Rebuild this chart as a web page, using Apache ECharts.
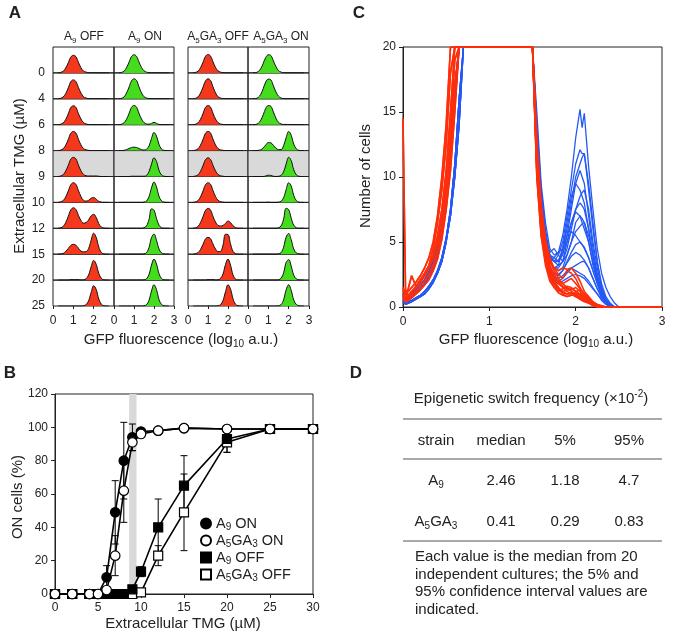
<!DOCTYPE html>
<html><head><meta charset="utf-8">
<script src="https://cdn.jsdelivr.net/npm/echarts@6/dist/echarts.min.js"></script>
<style>html,body{margin:0;padding:0;background:#fff}#c{width:674px;height:642px}</style>
</head><body><div id="c"></div>
<script>
// ---------------- Panel A data ----------------
const binX = [0.25,0.375,0.5,0.625,0.75,0.875,1.0,1.125,1.25,1.375,1.5,1.625,1.75,1.875,2.0,2.125,2.25,2.375,2.5,2.625,2.75];
const tmgRows = ['0','4','6','8','9','10','12','15','20','25'];
const colHeads = ['A9 OFF','A9 ON','A5GA3 OFF','A5GA3 ON'];
const histA9off = [
 [0,2,6,19,39,61,68,63,41,20,7,3,1,0,0,0,0,0,0,0,0],
 [0,2,7,20,42,66,73,67,44,22,8,3,1,0,0,0,0,0,0,0,0],
 [0,2,7,20,42,66,73,67,43,22,8,3,1,0,0,0,0,0,0,0,0],
 [0,2,7,21,43,67,74,68,44,22,8,3,1,0,0,0,0,0,0,0,0],
 [0,2,7,21,43,67,74,68,44,22,8,3,2,2,2,2,1,0,0,0,0],
 [0,2,7,21,44,68,76,70,46,23,8,5,8,16,19,12,4,1,0,0,0],
 [0,2,7,22,46,71,79,73,50,30,20,22,32,48,54,42,18,5,1,0,0],
 [0,1,3,11,22,34,38,35,23,12,9,10,22,54,81,65,28,7,1,0,0],
 [0,0,0,0,0,2,2,2,2,0,1,5,20,51,76,61,26,7,1,0,0],
 [0,0,0,0,0,0,0,0,0,0,1,5,20,52,78,64,27,7,1,0,0]
];
const histA9on = [
 [0,2,6,20,41,63,70,64,42,21,8,3,1,0,0,0,0,0,0,0,0],
 [0,2,7,22,45,69,77,71,46,23,8,3,1,0,0,0,0,0,0,0,0],
 [0,2,7,21,43,67,74,68,44,22,8,3,2,5,9,5,1,0,0,0,0],
 [0,0,1,4,8,12,13,12,8,4,2,5,18,47,70,56,24,6,1,0,0],
 [0,0,0,0,0,1,1,1,1,1,1,4,19,48,72,58,24,6,1,0,0],
 [0,0,0,0,0,0,0,0,0,0,1,5,22,56,79,60,24,6,1,0,0],
 [0,0,0,0,0,0,0,0,0,0,2,9,34,75,70,38,12,2,0,0,0],
 [0,0,0,0,0,0,0,0,0,0,1,6,26,64,78,54,20,5,1,0,0],
 [0,0,0,0,0,0,0,0,0,0,1,5,22,58,81,62,25,6,1,0,0],
 [0,0,0,0,0,0,0,0,0,0,1,5,22,58,82,63,25,6,1,0,0]
];
const histA5off = [
 [0,2,6,20,41,64,71,65,43,21,8,3,1,0,0,0,0,0,0,0,0],
 [0,2,7,22,45,69,77,71,46,23,8,3,1,0,0,0,0,0,0,0,0],
 [0,2,7,21,43,67,74,68,44,22,8,3,1,0,0,0,0,0,0,0,0],
 [0,2,7,21,43,67,74,68,44,22,8,3,1,0,0,0,0,0,0,0,0],
 [0,2,6,20,42,65,72,66,43,22,8,3,1,0,0,0,0,0,0,0,0],
 [0,2,7,21,44,68,76,70,46,23,8,3,1,0,0,0,0,0,0,0,0],
 [0,2,7,22,45,69,77,71,46,24,11,9,11,19,28,22,10,3,0,0,0],
 [0,2,6,18,38,59,65,60,39,20,10,11,35,77,76,40,11,2,0,0,0],
 [0,0,0,0,0,0,2,2,2,0,1,6,24,60,81,58,20,4,0,0,0],
 [0,0,0,0,0,0,0,0,0,0,1,5,21,55,82,66,28,7,1,0,0]
];
const histA5on = [
 [0,1,5,16,37,60,70,67,46,24,9,3,1,0,0,0,0,0,0,0,0],
 [0,1,5,17,40,65,76,73,50,26,10,3,1,0,0,0,0,0,0,0,0],
 [0,1,5,17,39,63,74,71,49,25,9,3,1,1,1,0,0,0,0,0,0],
 [0,0,1,3,10,22,31,30,20,9,4,4,19,50,74,59,25,7,1,0,0],
 [0,0,0,0,0,2,5,4,1,0,1,4,18,48,74,61,26,7,1,0,0],
 [0,0,0,0,0,0,1,0,0,0,1,4,18,49,76,63,27,7,1,0,0],
 [0,0,0,0,0,0,0,0,0,0,2,9,35,77,72,39,12,2,0,0,0],
 [0,0,0,0,0,0,0,0,0,0,1,6,27,66,80,56,20,5,1,0,0],
 [0,0,0,0,0,0,0,0,0,0,1,7,28,68,79,54,19,5,1,0,0],
 [0,0,0,0,0,0,0,0,0,0,1,5,24,62,82,60,23,6,1,0,0]
];

// ---------------- Panel B data ----------------
const tmgX = [0,2,4,5,6,7,8,9,10,12,15,20,25,30];
const a9On     = [0,0,0,0,10,49,80,94,97.5,98,99.5,99,99,99];
const a9OnErr  = [0,0,0,0,7,19,23,8,1,1,0.5,2,0.5,0.5];
const a5On     = [0,0,0,0,2.4,23,62,91,96,98,99.5,99,99,99];
const a5OnErr  = [0,0,0,0,2,12,19,5,1,1,0.5,2,0.5,0.5];
const a9Off    = [0,0,0,0,0,0,0,2.8,13.4,40,65,93,99,99];
const a9OffErr = [0,0,0,0,0,0,0,1,3,17,18,8,1,0.5];
const a5Off    = [0,0,0,0,0,0,0,0,1,23,49,91,99,99];
const a5OffErr = [0,0,0,0,0,0,0,0,1,6,23,6,1,0.5];
const bandRange = [8.62, 9.48];

// ---------------- Panel C data ----------------
const xL = [0,0.03,0.06,0.1,0.15,0.2,0.25,0.3,0.35,0.4,0.45,0.5,0.55,0.6,0.65,0.7];
const xR = [1.5,1.55,1.6,1.65,1.7,1.75,1.8,1.85,1.9,1.95,2.0,2.05,2.075,2.1,2.15,2.2,2.25,2.3,2.35,2.4,2.45,2.5,2.55,3.0];
const redLeft = [
 [14.5,1.0,0.9,1.2,1.6,2.1,2.6,3.2,4.5,6.5,9.0,12.5,18,20,20,20],
 [1.5,1.0,1.4,2.4,1.6,2.0,2.4,3.0,4.0,5.5,7.5,10.5,15,20,20,20],
 [1.0,0.7,0.9,1.1,1.5,1.9,2.4,3.0,3.8,5.0,7.0,9.5,13.5,19,20,20],
 [0.8,0.5,0.7,0.9,1.2,1.6,2.0,2.5,3.2,4.3,6.0,8.5,12,17,20,20],
 [1.3,0.9,1.2,1.5,1.9,2.4,3.0,3.8,5.0,7.0,10,14,20,20,20,20],
 [0.6,0.4,0.5,0.7,1.0,1.3,1.7,2.1,2.8,3.7,5.2,7.5,10.5,15,20,20]
];
const blueLeft = [
 [0.5,0.3,0.4,0.5,0.7,0.9,1.2,1.6,2.1,2.8,3.8,5.3,7.5,11,16,20],
 [0.8,0.5,0.6,0.8,1.1,1.4,1.8,2.3,3.0,4.0,5.5,7.8,11,15.5,20,20],
 [0.4,0.2,0.3,0.4,0.6,0.8,1.0,1.4,1.9,2.6,3.5,5.0,7.0,10,14,20],
 [1.0,0.6,0.8,1.0,1.3,1.7,2.1,2.7,3.5,4.6,6.2,8.8,12.5,17,20,20]
];
const blueRight = [
 [20,15,9.5,6.5,4.5,4,4.2,5.5,7.5,10,13,15.2,13.8,14.9,10.8,7.5,4.5,2.6,1.5,0.8,0.3,0,0,0],
 [20,14,9,6,4,3.5,4,5,7,9,11,12.1,11.8,11.8,9,6,3.5,1.8,0.8,0.3,0,0,0,0],
 [20,14,9,5.5,4,3.8,3.5,4.5,6,8,10,11,11.5,11.8,9.5,6.5,3.5,1.5,0.6,0.2,0,0,0,0],
 [20,14,8.5,5.5,4,3.5,3.5,4,5.5,7.5,9.5,10.5,10,9.5,7,4.5,2.5,1.2,0.5,0,0,0,0,0],
 [20,13,8,5,3.5,3,3.2,4.5,6.5,8.5,9.5,9,8.5,8,6,4,2.2,1,0.4,0,0,0,0,0],
 [20,13.5,8.5,5.5,4,3.5,3.2,3.5,4.5,6,7.5,8.5,8.8,9,7.5,5,3,1.5,0.6,0.2,0,0,0,0],
 [20,13,8,5,3.5,3,3,3.5,5,6.5,7.5,8,7.8,7.5,6,4,2.2,1,0.5,0.1,0,0,0,0],
 [20,13,7.5,4.5,3.5,3.8,4.2,4.5,5.5,6.5,7.3,7,6.5,6,5,3.5,2,1,0.5,0.2,0,0,0,0],
 [20,13,8,5,3.5,3,2.8,3,4,5,5.8,6.2,6.4,6.5,5.5,4,2.5,1.2,0.5,0.2,0,0,0,0],
 [20,12.5,7.5,4.8,3.8,3.5,3.6,4.2,5,5.8,5.5,5,4.8,4.5,3.8,2.8,1.8,0.8,0.3,0,0,0,0,0],
 [20,12.5,7.5,4.5,3,2.6,2.5,2.8,3.5,4.2,4.8,5,4.8,4.6,3.8,2.8,1.8,1,0.4,0.1,0,0,0,0],
 [20,12,7,4.2,3,2.5,2.4,2.8,3.4,3.9,4.2,4,3.8,3.6,3,2.2,1.4,0.8,0.3,0,0,0,0,0],
 [20,12,7,4,2.8,2.2,2,2.2,2.6,3,3.2,3.4,3.5,3.5,3,2.2,1.4,0.7,0.3,0.1,0,0,0,0],
 [20,12,6.5,4,2.8,2.3,2.2,2.4,2.8,3,2.8,2.6,2.5,2.4,2,1.5,1,0.5,0.2,0,0,0,0,0],
 [20,13.5,8,5,4.2,4.5,4,3.5,4,5,6.5,7,6.8,6.5,5,3.2,2,1,0.4,0.1,0,0,0,0],
 [20,12,6.5,3.8,2.5,2,1.8,2,2.2,2.4,2.5,2.4,2.3,2.2,1.8,1.4,1,0.6,0.3,0.1,0,0,0,0]
];
const redRight = [
 [20,11,6,4,2.5,2,1.5,1.2,1,1,0.8,0.6,0.5,0.4,0.3,0.2,0,0,0,0,0,0,0,0],
 [20,12,7,5,3.5,3,2.8,3,2.9,3,2.6,2,1.6,1.2,0.8,0.4,0.1,0,0,0,0,0,0,0],
 [20,10,5.5,3.5,2.2,1.6,1.2,1.4,1.6,1.5,1.2,1.3,1.2,1,0.6,0.3,0.1,0,0,0,0,0,0,0],
 [20,11,6.5,4.5,3,2.4,2,1.8,1.5,1.3,1.5,1.2,1,0.8,0.5,0.3,0.2,0,0,0,0,0,0,0],
 [20,10.5,6,3.8,2.6,2,1.5,1,0.8,0.9,1,0.7,0.6,0.5,0.4,0.2,0,0,0,0,0,0,0,0],
 [20,12.5,7.5,5,3.5,2.8,2.2,1.8,2,2.2,1.8,1.4,1.2,1,0.7,0.4,0.2,0.1,0,0,0,0,0,0],
 [20,11.5,6.5,4.2,2.8,2.2,1.8,1.5,1.2,1,0.8,0.8,0.7,0.5,0.3,0.1,0,0,0,0,0,0,0,0],
 [20,10,5.5,3.2,2,1.5,1.1,0.9,0.8,0.9,1.1,1,0.8,0.6,0.4,0.3,0.1,0,0,0,0,0,0,0],
 [20,13,8,5.2,3.8,3,2.5,2.2,2.8,2.6,2.2,1.5,1.2,1,0.6,0.3,0.1,0,0,0,0,0,0,0],
 [20,11,6,3.8,2.5,1.8,1.4,1.2,1.3,1.4,1.2,1,0.9,0.8,0.5,0.3,0.1,0,0,0,0,0,0,0],
 [20,12,7,4.6,3.2,2.5,1.9,1.6,1.4,1.2,1,0.9,0.8,0.7,0.5,0.3,0.2,0.1,0,0,0,0,0,0],
 [20,10.5,5.8,3.6,2.4,1.8,1.3,1.1,1,1.1,0.9,0.7,0.6,0.5,0.3,0.2,0.1,0,0,0,0,0,0,0]
];

// ---------------- Panel D data ----------------
const dHeader = ['strain','median','5%','95%'];
const dStrains = ['A9','A5GA3'];
const dMedian = ['2.46','0.41'];
const dLow = ['1.18','0.29'];
const dHigh = ['4.7','0.83'];
const dNote = ['Each value is the median from 20','independent cultures; the 5% and','95% confidence interval values are','indicated.'];

// ---------------- build ----------------
const FONT = '"Liberation Sans", Arial, Helvetica, sans-serif';
const INK = '#222';
const grids = [], xAxes = [], yAxes = [], series = [], graphics = [];

function richName(s) {
  const out = '{n|' + s.replace(/(\d)/g, '}{s|$1}{n|') + '}';
  return out.replace(/\{n\|\}/g, '');
}
const gRich = (size, sub) => ({
  n: {fontSize: size, fontFamily: FONT, fill: INK, lineHeight: size + 4},
  s: {fontSize: sub, fontFamily: FONT, fill: INK, verticalAlign: 'bottom'},
  p: {fontSize: sub, fontFamily: FONT, fill: INK, verticalAlign: 'top'}
});
function T(x, y, text, o = {}) {
  graphics.push({type: 'text', x, y, rotation: o.rot || 0, silent: true,
    style: {text, fill: INK, fontSize: o.size || 12, fontFamily: FONT, fontWeight: o.bold ? 'bold' : 'normal',
      align: o.align || 'center', verticalAlign: 'middle', rich: o.rich}});
}
function L(x1, y1, x2, y2, c) {
  graphics.push({type: 'line', silent: true, shape: {x1, y1, x2, y2}, style: {stroke: c || '#555', lineWidth: 1}});
}

// Panel A
const colLeft = [53, 114, 188, 248], colW = [61, 60, 60, 61];
const rowTop = 47, rowH = 25.9;
const histCols = [histA9off, histA9on, histA5off, histA5on];
const histColor = ['#f5381c', '#45dc1e', '#f5381c', '#45dc1e'];
for (let c = 0; c < 4; c++) {
  for (let r = 0; r < 10; r++) {
    const gi = grids.length;
    grids.push({left: colLeft[c], top: rowTop + r * rowH, width: colW[c], height: rowH, show: true,
      borderColor: INK, borderWidth: 1, backgroundColor: r === 4 ? '#d9d9d9' : 'transparent'});
    const bottom = r === 9;
    xAxes.push({gridIndex: gi, type: 'value', min: 0, max: 3, interval: 1,
      axisLine: {show: false}, splitLine: {show: false},
      axisTick: {show: bottom, length: 3, lineStyle: {color: INK}},
      axisLabel: {show: bottom, fontSize: 12, color: INK, fontFamily: FONT, margin: 9, showMinLabel: true, showMaxLabel: c % 2 === 1}});
    yAxes.push({gridIndex: gi, type: 'value', min: 0, max: 100, interval: 100,
      axisLine: {show: false}, splitLine: {show: false}, axisTick: {show: false},
      axisLabel: {show: c === 0, fontSize: 12, color: INK, fontFamily: FONT, margin: 8,
        formatter: (v) => v === 0 ? tmgRows[r] : ''}});
    series.push({type: 'line', xAxisIndex: gi, yAxisIndex: gi, symbol: 'none', smooth: 0.4,
      data: binX.map((x, i) => [x, histCols[c][r][i]]),
      lineStyle: {color: '#111', width: 1}, areaStyle: {color: histColor[c], opacity: 1}});
  }
}
const headX = [84, 145, 218, 281];
colHeads.forEach((h, i) => T(headX[i], 37, richName(h), {rich: gRich(12, 8)}));
T(20, 176, 'Extracellular TMG (\u00b5M)', {size: 15, rot: Math.PI / 2});
T(181, 340, '{n|GFP fluorescence (log}{s|10}{n| a.u.)}', {rich: gRich(15, 10)});

// Panel C
const gC = grids.length;
grids.push({left: 403, top: 47, width: 259, height: 260, show: true, borderColor: INK, borderWidth: 1});
xAxes.push({gridIndex: gC, type: 'value', min: 0, max: 3, interval: 1,
  axisLine: {lineStyle: {color: INK}}, splitLine: {show: false},
  axisTick: {length: 4, lineStyle: {color: INK}},
  axisLabel: {fontSize: 12, color: INK, fontFamily: FONT, margin: 9}});
yAxes.push({gridIndex: gC, type: 'value', min: 0, max: 20, interval: 5,
  axisLine: {show: true, lineStyle: {color: INK}}, splitLine: {show: false},
  axisTick: {show: true, length: 4, lineStyle: {color: INK}},
  axisLabel: {fontSize: 12, color: INK, fontFamily: FONT, margin: 7}});
blueRight.forEach((rr, i) => {
  const lf = blueLeft[i % blueLeft.length];
  series.push({type: 'line', xAxisIndex: gC, yAxisIndex: gC, symbol: 'none', z: 2,
    data: xL.map((x, k) => [x, lf[k]]).concat(xR.map((x, k) => [x, rr[k]])),
    lineStyle: {color: '#2458f5', width: 1.3}});
});
redRight.forEach((rr, i) => {
  const lf = redLeft[i % redLeft.length];
  series.push({type: 'line', xAxisIndex: gC, yAxisIndex: gC, symbol: 'none', z: 3,
    data: xL.map((x, k) => [x, lf[k]]).concat(xR.map((x, k) => [x, rr[k]])),
    lineStyle: {color: '#ff2e0a', width: 1.6}});
});
T(366, 176, 'Number of cells', {size: 15, rot: Math.PI / 2});
T(536, 340, '{n|GFP fluorescence (log}{s|10}{n| a.u.)}', {rich: gRich(15, 10)});

// Panel B
const gB = grids.length;
grids.push({left: 55, top: 394, width: 258, height: 200, show: true, borderColor: INK, borderWidth: 1});
xAxes.push({gridIndex: gB, type: 'value', min: 0, max: 30, interval: 5,
  axisLine: {lineStyle: {color: INK}}, splitLine: {show: false},
  axisTick: {length: 4, lineStyle: {color: INK}},
  axisLabel: {fontSize: 12, color: INK, fontFamily: FONT, margin: 8}});
yAxes.push({gridIndex: gB, type: 'value', min: 0, max: 120, interval: 20,
  axisLine: {show: true, lineStyle: {color: INK}}, splitLine: {show: false},
  axisTick: {show: true, length: 4, lineStyle: {color: INK}},
  axisLabel: {fontSize: 12, color: INK, fontFamily: FONT, margin: 7}});
function errSeries(ys, es) {
  return {type: 'custom', xAxisIndex: gB, yAxisIndex: gB, z: 3, silent: true,
    data: tmgX.map((x, i) => [x, ys[i] - es[i], ys[i] + es[i], es[i]]),
    encode: {x: 0, y: [1, 2]},
    renderItem: (p, api) => {
      if (api.value(3) <= 0) return null;
      const t = api.coord([api.value(0), api.value(2)]), b = api.coord([api.value(0), api.value(1)]);
      const w = 3.5, st = {stroke: '#000', lineWidth: 1};
      return {type: 'group', children: [
        {type: 'line', shape: {x1: t[0], y1: t[1], x2: b[0], y2: b[1]}, style: st},
        {type: 'line', shape: {x1: t[0] - w, y1: t[1], x2: t[0] + w, y2: t[1]}, style: st},
        {type: 'line', shape: {x1: b[0] - w, y1: b[1], x2: b[0] + w, y2: b[1]}, style: st}]};
    }};
}
series.push({type: 'custom', xAxisIndex: gB, yAxisIndex: gB, z: 1, silent: true,
  data: [[bandRange[0], bandRange[1]]], encode: {x: [0, 1]},
  renderItem: (p, api) => {
    const a = api.coord([api.value(0), 0]), b = api.coord([api.value(1), 120]);
    return {type: 'rect', shape: {x: a[0], y: b[1], width: b[0] - a[0], height: a[1] - b[1]}, style: {fill: '#d9d9d9'}};
  }});
series.push(errSeries(a9Off, a9OffErr), errSeries(a5Off, a5OffErr), errSeries(a9On, a9OnErr), errSeries(a5On, a5OnErr));
function bLine(name, ys, symbol, filled, z) {
  return {type: 'line', name, xAxisIndex: gB, yAxisIndex: gB, z,
    data: tmgX.map((x, i) => [x, ys[i]]), symbol, symbolSize: symbol === 'rect' ? 9 : 9.5, showAllSymbol: true,
    lineStyle: {color: '#000', width: 1.6},
    itemStyle: {color: filled ? '#000' : '#fff', borderColor: '#000', borderWidth: 1.2}};
}
series.push(bLine('A5GA3 OFF', a5Off, 'rect', false, 4), bLine('A9 OFF', a9Off, 'rect', true, 5),
            bLine('A9 ON', a9On, 'circle', true, 6), bLine('A5GA3 ON', a5On, 'circle', false, 7));
T(18, 497, 'ON cells (%)', {size: 15, rot: Math.PI / 2});
T(183, 624, 'Extracellular TMG (\u00b5M)', {size: 15});

// Panel D
const dCols = [436, 501, 565, 629];
T(531, 399, '{n|Epigenetic switch frequency (\u00d710}{p|-2}{n|)}', {rich: gRich(15, 10)});
L(403, 419, 662, 419);
dHeader.forEach((h, i) => T(dCols[i], 441, h, {size: 15}));
L(403, 459, 662, 459);
const dRowY = [481, 522];
dStrains.forEach((s, j) => {
  T(dCols[0], dRowY[j], richName(s), {rich: gRich(15, 10)});
  T(dCols[1], dRowY[j], dMedian[j], {size: 15});
  T(dCols[2], dRowY[j], dLow[j], {size: 15});
  T(dCols[3], dRowY[j], dHigh[j], {size: 15});
});
L(403, 541, 662, 541);
const noteY = [557, 575, 592, 610];
dNote.forEach((t, i) => T(415, noteY[i], t, {size: 15, align: 'left'}));

// Panel letters
T(15, 13, 'A', {size: 17, bold: true});
T(359, 13, 'C', {size: 17, bold: true});
T(10, 373, 'B', {size: 17, bold: true});
T(356, 373, 'D', {size: 17, bold: true});

const chart = echarts.init(document.getElementById('c'));
chart.setOption({
  animation: false,
  textStyle: {fontFamily: FONT},
  grid: grids, xAxis: xAxes, yAxis: yAxes, series,
  legend: {
    data: [{name: 'A9 ON', icon: 'circle'}, {name: 'A5GA3 ON', icon: 'circle'}, {name: 'A9 OFF', icon: 'rect'}, {name: 'A5GA3 OFF', icon: 'rect'}],
    orient: 'vertical', left: 195, top: 511, itemWidth: 10, itemHeight: 10, itemGap: 1,
    selectedMode: false,
    formatter: (n) => richName(n),
    textStyle: {rich: {
      n: {fontSize: 14.5, color: INK, fontFamily: FONT, lineHeight: 17},
      s: {fontSize: 10, color: INK, fontFamily: FONT, verticalAlign: 'bottom'}}}
  },
  graphic: graphics
});
</script></body></html>
